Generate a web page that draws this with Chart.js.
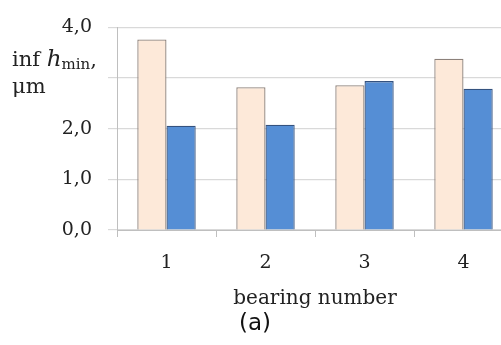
<!DOCTYPE html>
<html>
<head>
<meta charset="utf-8">
<script src="https://cdn.jsdelivr.net/npm/chart.js@4"></script>
<style>
  html, body { margin: 0; padding: 0; background: #fff; overflow: hidden; width: 501px; height: 345px; }
  #wrap { position: relative; width: 501px; height: 345px; overflow: hidden; }
  canvas { position: absolute; left: 0; top: 0; }
  .ytitle { position: absolute; left: 12px; top: 46px; font-family: "DejaVu Serif", serif; font-size: 21px; line-height: 27px; color: #222; }
  .ytitle i { font-size: 23px; line-height: 0; }
  .ytitle sub { font-size: 15px; vertical-align: -3px; line-height: 0; }
  .caption { position: absolute; left: 239px; top: 308px; font-family: "DejaVu Sans", sans-serif; font-size: 23px; line-height: 28px; color: #111; }
</style>
</head>
<body>
<div id="wrap">
  <canvas id="chart" width="513" height="345"></canvas>
  <div class="ytitle">inf <i>h</i><sub>min</sub>,<br>μm</div>
  <div class="caption">(a)</div>
</div>
<script>
// Chart values
const categories = ["1", "2", "3", "4"];
const seriesA = [3.76, 2.82, 2.86, 3.38];   // light peach bars
const seriesB = [2.06, 2.08, 2.94, 2.79];   // blue bars
const yTicks = [0, 1, 2, 3, 4];
const yHidden = [3];                          // tick left blank for the axis title

const serif = "'DejaVu Serif', serif";

const ctx = document.getElementById("chart").getContext("2d");
new Chart(ctx, {
    type: "bar",
    data: {
        labels: categories,
        datasets: [
            { data: seriesA, backgroundColor: "#fde9d9", borderColor: "#8c817a", borderWidth: 1.3 },
            { data: seriesB, backgroundColor: "#558ed5", borderColor: "#34527f", borderWidth: 1.3 }
        ]
    },
    options: {
        responsive: false,
        animation: false,
        layout: { padding: { top: 22, right: 0, bottom: 34, left: 0 } },
        plugins: { legend: { display: false }, tooltip: { enabled: false } },
        datasets: { bar: { categoryPercentage: 0.59, barPercentage: 1.0 } },
        scales: {
            x: {
                grid: { offset: true, drawOnChartArea: false, drawTicks: true, tickLength: 7, color: "#bfbfbf" },
                border: { display: true, color: "#bfbfbf" },
                ticks: { padding: 15, color: "#222", font: { family: serif, size: 19 } },
                title: { display: true, text: "bearing number", color: "#222", padding: { top: 4, bottom: 0 }, font: { family: serif, size: 20 } },
                afterFit: (s) => { s.height = 81; }
            },
            y: {
                min: 0,
                max: 4,
                afterBuildTicks: (s) => { s.ticks = yTicks.map(v => ({ value: v })); },
                grid: { color: "#d9d9d9", tickLength: 9, lineWidth: 1.2 },
                border: { display: true, color: "#bfbfbf" },
                ticks: {
                    padding: 16,
                    color: "#222",
                    font: { family: serif, size: 19 },
                    callback: (v) => yHidden.includes(v) ? "" : v.toFixed(1).replace(".", ",")
                },
                afterFit: (s) => { s.width = 117; }
            }
        }
    }
});
</script>
</body>
</html>
